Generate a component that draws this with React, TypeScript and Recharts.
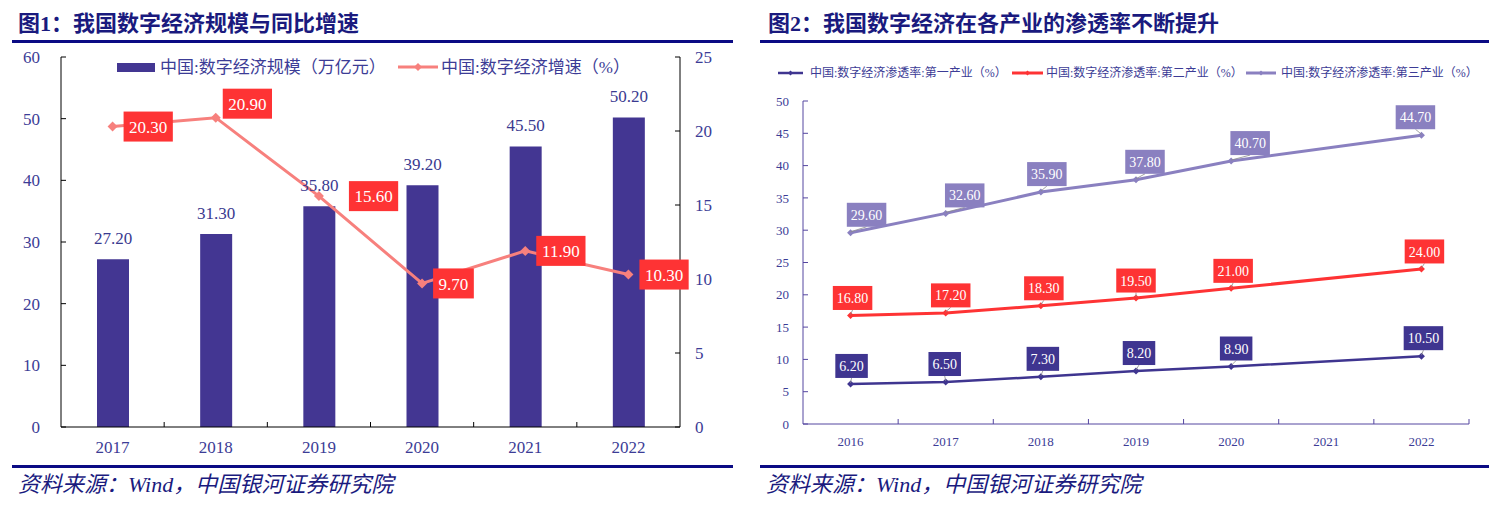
import React from "react";
import {
  ComposedChart,
  Bar,
  Line,
  XAxis,
  YAxis,
  LabelList,
} from "recharts";

// ---- data: figure 1 ----
const YEARS_1 = ["2017", "2018", "2019", "2020", "2021", "2022"];
const SCALE = [27.2, 31.3, 35.8, 39.2, 45.5, 50.2]; // 万亿元
const GROWTH = [20.3, 20.9, 15.6, 9.7, 11.9, 10.3]; // %
const LEFT_TICKS = [0, 10, 20, 30, 40, 50, 60];
const RIGHT_TICKS = [0, 5, 10, 15, 20, 25];

// ---- data: figure 2 ----
const YEARS_2 = ["2016", "2017", "2018", "2019", "2020", "2021", "2022"];
const PRIMARY = [6.2, 6.5, 7.3, 8.2, 8.9, null, 10.5];
const SECONDARY = [16.8, 17.2, 18.3, 19.5, 21.0, null, 24.0];
const TERTIARY = [29.6, 32.6, 35.9, 37.8, 40.7, null, 44.7];
const PEN_TICKS = [0, 5, 10, 15, 20, 25, 30, 35, 40, 45, 50];

const fig1Rows = YEARS_1.map((year, i) => ({ year, scale: SCALE[i], growth: GROWTH[i] }));
const fig2Rows = YEARS_2.map((year, i) => ({
  year,
  primary: PRIMARY[i],
  secondary: SECONDARY[i],
  tertiary: TERTIARY[i],
}));

const SERIF = '"Liberation Serif", "Times New Roman", "Noto Sans CJK SC", serif';
const TITLE_FONT = '"Liberation Serif", "Noto Sans CJK SC", sans-serif';
const NAVY = "#1a1a7e";
const RULE = "#0b0b84";
const TICK_TEXT = "#3c3c96";
const BAR = "#433692";
const SALMON = "#f7807d";
const RED = "#fe3334";
const P1 = "#3f3590";
const P3 = "#8a80c0";
const AXIS2 = "#5446a0";

// half a category band on the right chart (point scale padded to look like bands)
const FIG2_PLOT_W = 666;
const FIG2_HALF_BAND = FIG2_PLOT_W / YEARS_2.length / 2;

// rough text width for serif digits
const numWidth = (s: string, fs: number) =>
  s.split("").reduce((w, c) => w + (c === "." ? 0.25 : 0.5), 0) * fs;

// category tick: label + short inward tick at band boundaries
const makeBandTick =
  (o: { margin: number; fs: number; color: string; tickColor: string; endTick: boolean; plotW: number }) =>
  (props: any) => {
    const { x, y, payload, index, width, visibleTicksCount } = props;
    const n = visibleTicksCount || 1;
    const w = typeof width === "number" && width > 0 ? width : o.plotW;
    const band = w / n;
    const axisY = y - o.margin;
    const left = x - band / 2;
    const right = x + band / 2;
    return (
      <g>
        {index > 0 && (
          <line x1={left} x2={left} y1={axisY} y2={axisY - 5} stroke={o.tickColor} strokeWidth={1} />
        )}
        {o.endTick && index === n - 1 && (
          <line x1={right} x2={right} y1={axisY} y2={axisY - 5} stroke={o.tickColor} strokeWidth={1} />
        )}
        <text x={x} y={y} dy="0.71em" textAnchor="middle" fill={o.color} fontSize={o.fs} fontFamily={SERIF}>
          {payload.value}
        </text>
      </g>
    );
  };

const Diamond = (r: number, color: string) => (props: any) => {
  const { cx, cy, index } = props;
  if (cx == null || cy == null || props.value == null) return <g key={index} />;
  return (
    <polygon
      key={index}
      points={`${cx},${cy - r} ${cx + r},${cy} ${cx},${cy + r} ${cx - r},${cy}`}
      fill={color}
    />
  );
};

const BarValueLabel = (props: any) => {
  const { x, y, width, value } = props;
  return (
    <text x={x + width / 2} y={y - 15} textAnchor="middle" fill="#3a3a90" fontSize={17} fontFamily={SERIF}>
      {Number(value).toFixed(2)}
    </text>
  );
};

// growth labels: mostly to the right of the point
const GrowthLabel = (props: any) => {
  const { x, y, value, index } = props;
  const text = Number(value).toFixed(2);
  const fs = 17;
  const bw = numWidth(text, fs) + 11;
  const bh = 30;
  let left = x + 11;
  let top = y - bh / 2;
  if (index === 1) {
    left = x + 7;
    top = y - bh + 1;
  } else if (index === 2) {
    left = x + 30;
  }
  return (
    <g>
      <rect x={left} y={top} width={bw} height={bh} fill={RED} />
      <text
        x={left + bw / 2}
        y={top + bh / 2}
        dy="0.36em"
        textAnchor="middle"
        fill="#fff"
        fontSize={fs}
        fontFamily={SERIF}
      >
        {text}
      </text>
    </g>
  );
};

const boxLabel = (color: string, gap: number, dxs: number[]) => (props: any) => {
  const { x, y, value, index } = props;
  if (value == null || x == null) return null;
  const text = Number(value).toFixed(2);
  const fs = 14;
  const bw = numWidth(text, fs) + 8;
  const bh = 24;
  const cx = x + (dxs[index] ?? 2);
  const bottom = y - gap;
  return (
    <g>
      <line x1={x} y1={y - 1} x2={cx} y2={bottom} stroke="#8c8c8c" strokeWidth={0.8} />
      <rect x={cx - bw / 2} y={bottom - bh} width={bw} height={bh} fill={color} />
      <text
        x={cx}
        y={bottom - bh / 2}
        dy="0.36em"
        textAnchor="middle"
        fill="#fff"
        fontSize={fs}
        fontFamily={SERIF}
      >
        {text}
      </text>
    </g>
  );
};

const LegendLine = ({ left, top, w, color, thick, r }: any) => (
  <svg style={{ position: "absolute", left, top }} width={w} height={12}>
    <line x1={0} x2={w} y1={6} y2={6} stroke={color} strokeWidth={thick} />
    <polygon points={`${w / 2},${6 - r} ${w / 2 + r},6 ${w / 2},${6 + r} ${w / 2 - r},6`} fill={color} />
  </svg>
);

const abs = (left: number, top: number, extra: any = {}) => ({
  position: "absolute" as const,
  left,
  top,
  whiteSpace: "nowrap" as const,
  ...extra,
});

export default function App() {
  return (
    <div style={{ position: "absolute", left: 0, top: 0, width: 1489, height: 506, background: "#fff", overflow: "hidden" }}>
      {/* ---------- figure 1 ---------- */}
      <div style={abs(0, 0)}>
        <ComposedChart width={740} height={470} data={fig1Rows} margin={{ top: 57, right: 0, bottom: 13, left: 0 }}>
          <XAxis
            dataKey="year"
            height={30}
            interval={0}
            tickLine={false}
            tickSize={0}
            tickMargin={14}
            axisLine={{ stroke: "#000" }}
            tick={makeBandTick({ margin: 14, fs: 17, color: TICK_TEXT, tickColor: "#000", endTick: false, plotW: 619 })}
          />
          <YAxis
            yAxisId="l"
            domain={[0, 60]}
            ticks={LEFT_TICKS}
            interval={0}
            width={61}
            tickSize={-5}
            tickMargin={26}
            axisLine={{ stroke: "#000" }}
            tickLine={{ stroke: "#000" }}
            tick={{ fill: TICK_TEXT, fontSize: 17, fontFamily: SERIF }}
          />
          <YAxis
            yAxisId="r"
            orientation="right"
            domain={[0, 25]}
            ticks={RIGHT_TICKS}
            interval={0}
            width={60}
            tickSize={-5}
            tickMargin={20}
            axisLine={{ stroke: "#000" }}
            tickLine={{ stroke: "#000" }}
            tick={{ fill: TICK_TEXT, fontSize: 17, fontFamily: SERIF }}
          />
          <Bar yAxisId="l" dataKey="scale" fill={BAR} barSize={32} isAnimationActive={false}>
            <LabelList dataKey="scale" content={<BarValueLabel />} />
          </Bar>
          <Line
            yAxisId="r"
            dataKey="growth"
            stroke={SALMON}
            strokeWidth={3}
            dot={Diamond(5, SALMON)}
            activeDot={false}
            isAnimationActive={false}
          >
            <LabelList dataKey="growth" content={<GrowthLabel />} />
          </Line>
        </ComposedChart>
      </div>

      <div style={abs(18, 11, { fontSize: 22, fontWeight: 700, color: NAVY, fontFamily: TITLE_FONT, lineHeight: "26px" })}>
        图1：我国数字经济规模与同比增速
      </div>
      <div style={abs(12, 40, { width: 721, height: 3, background: RULE })} />

      <div style={abs(117, 63, { width: 38, height: 9, background: BAR })} />
      <div style={abs(160, 56, { fontSize: 17, lineHeight: "24px", color: TICK_TEXT, fontFamily: SERIF })}>
        中国:数字经济规模（万亿元）
      </div>
      <LegendLine left={398} top={61} w={40} color={SALMON} thick={3} r={4} />
      <div style={abs(441, 56, { fontSize: 17, lineHeight: "24px", color: TICK_TEXT, fontFamily: SERIF })}>
        中国:数字经济增速（%）
      </div>

      <div style={abs(12, 465, { width: 721, height: 3, background: RULE })} />
      <div style={abs(18, 472, { fontSize: 22, fontStyle: "italic", color: NAVY, fontFamily: SERIF, lineHeight: "26px" })}>
        资料来源：Wind，中国银河证券研究院
      </div>

      {/* ---------- figure 2 ---------- */}
      <div style={abs(750, 0)}>
        <ComposedChart width={739} height={470} data={fig2Rows} margin={{ top: 101, right: 20, bottom: 16, left: 0 }}>
          <XAxis
            dataKey="year"
            height={30}
            interval={0}
            padding={{ left: FIG2_HALF_BAND, right: FIG2_HALF_BAND }}
            tickLine={false}
            tickSize={0}
            tickMargin={13}
            axisLine={{ stroke: AXIS2 }}
            tick={makeBandTick({ margin: 13, fs: 13, color: TICK_TEXT, tickColor: AXIS2, endTick: true, plotW: FIG2_PLOT_W })}
          />
          <YAxis
            domain={[0, 50]}
            ticks={PEN_TICKS}
            interval={0}
            width={53}
            tickSize={-5}
            tickMargin={19}
            axisLine={{ stroke: AXIS2 }}
            tickLine={{ stroke: AXIS2 }}
            tick={{ fill: TICK_TEXT, fontSize: 13, fontFamily: SERIF }}
          />
          <Line
            dataKey="primary"
            stroke={P1}
            strokeWidth={2.5}
            connectNulls
            dot={Diamond(3.5, P1)}
            activeDot={false}
            isAnimationActive={false}
          >
            <LabelList dataKey="primary" content={boxLabel(P1, 6, [1, -1, 2, 3, 5, 0, 2])} />
          </Line>
          <Line
            dataKey="secondary"
            stroke={RED}
            strokeWidth={3}
            connectNulls
            dot={Diamond(3.5, RED)}
            activeDot={false}
            isAnimationActive={false}
          >
            <LabelList dataKey="secondary" content={boxLabel(RED, 5.5, [2, 5, 3, 0, 2, 0, 3])} />
          </Line>
          <Line
            dataKey="tertiary"
            stroke={P3}
            strokeWidth={3}
            connectNulls
            dot={Diamond(3.5, P3)}
            activeDot={false}
            isAnimationActive={false}
          >
            <LabelList dataKey="tertiary" content={boxLabel(P3, 6, [16, 19, 6, 9, 19, 0, -6])} />
          </Line>
        </ComposedChart>
      </div>

      <div style={abs(768, 11, { fontSize: 22, fontWeight: 700, color: NAVY, fontFamily: TITLE_FONT, lineHeight: "26px" })}>
        图2：我国数字经济在各产业的渗透率不断提升
      </div>
      <div style={abs(760, 40, { width: 729, height: 3, background: RULE })} />

      <LegendLine left={778} top={67} w={25} color={P1} thick={2.5} r={2.5} />
      <div style={abs(810, 64, { fontSize: 12, lineHeight: "18px", color: TICK_TEXT, fontFamily: SERIF })}>
        中国:数字经济渗透率:第一产业（%）
      </div>
      <LegendLine left={1012} top={67} w={31} color={RED} thick={3} r={2.5} />
      <div style={abs(1046, 64, { fontSize: 12, lineHeight: "18px", color: TICK_TEXT, fontFamily: SERIF })}>
        中国:数字经济渗透率:第二产业（%）
      </div>
      <LegendLine left={1246} top={67} w={30} color={P3} thick={3} r={2.5} />
      <div style={abs(1281, 64, { fontSize: 12, lineHeight: "18px", color: TICK_TEXT, fontFamily: SERIF })}>
        中国:数字经济渗透率:第三产业（%）
      </div>

      <div style={abs(760, 465, { width: 729, height: 3, background: RULE })} />
      <div style={abs(766, 472, { fontSize: 22, fontStyle: "italic", color: NAVY, fontFamily: SERIF, lineHeight: "26px" })}>
        资料来源：Wind，中国银河证券研究院
      </div>
    </div>
  );
}
